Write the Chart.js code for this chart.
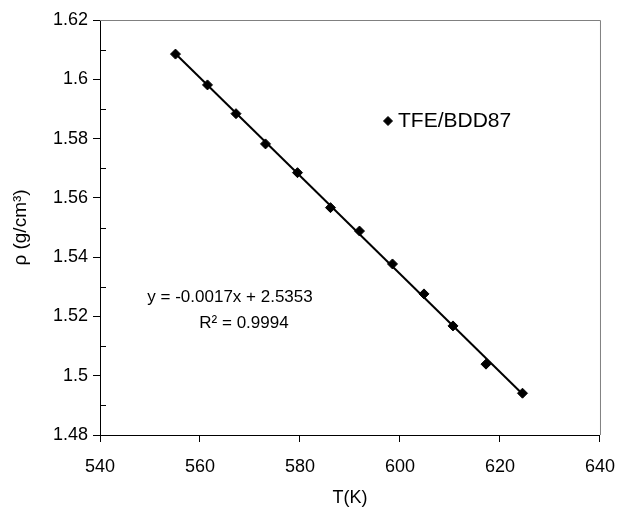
<!DOCTYPE html>
<html><head><meta charset="utf-8">
<script src="https://cdn.jsdelivr.net/npm/chart.js@4.4.0/dist/chart.umd.min.js"></script>
<style>html,body{margin:0;padding:0;background:#fff}#wrap{width:629px;height:513px}</style>
</head><body><div id="wrap"><canvas id="c" width="629" height="513"></canvas></div>
<script>
const seriesName = 'TFE/BDD87';
const temperatureK = [555.1, 561.5, 567.2, 573.1, 579.5, 586.1, 591.9, 598.5, 604.8, 610.6, 617.2, 624.5];
const densityGcm3 = [1.6085, 1.5981, 1.5884, 1.5782, 1.5685, 1.5567, 1.5488, 1.5377, 1.5276, 1.5168, 1.5039, 1.4941];
const xTickValues = [540, 560, 580, 600, 620, 640];
const yTickValues = [1.48, 1.50, 1.52, 1.54, 1.56, 1.58, 1.60, 1.62];
const yMinorTickValues = [1.49, 1.51, 1.53, 1.55, 1.57, 1.59, 1.61];
const equationLines = ['y = -0.0017x + 2.5353', 'R\u00B2 = 0.9994'];
const xTitle = 'T(K)';
const yTitle = '\u03C1 (g/cm\u00B3)';

// least-squares trend line from the data
const n = temperatureK.length;
const mx = temperatureK.reduce((a, b) => a + b, 0) / n;
const my = densityGcm3.reduce((a, b) => a + b, 0) / n;
let sxy = 0, sxx = 0;
for (let i = 0; i < n; i++) { sxy += (temperatureK[i] - mx) * (densityGcm3[i] - my); sxx += (temperatureK[i] - mx) ** 2; }
const slope = sxy / sxx, intercept = my - slope * mx;
const xMin = Math.min(...temperatureK), xMax = Math.max(...temperatureK);
const trend = [{x: xMin, y: intercept + slope * xMin}, {x: xMax, y: intercept + slope * xMax}];

const FONT = 'Liberation Sans, Arial, sans-serif';
const FS = 18;

const extras = {
  id: 'extras',
  afterDraw(chart) {
    const {ctx, chartArea: a, scales: {x, y}} = chart;
    ctx.save();
    // plot box top/right
    ctx.strokeStyle = '#808080'; ctx.lineWidth = 1;
    ctx.beginPath();
    ctx.moveTo(a.left, a.top + 0.5); ctx.lineTo(a.right + 0.5, a.top + 0.5); ctx.lineTo(a.right + 0.5, a.bottom);
    ctx.stroke();
    // minor ticks (inside)
    ctx.strokeStyle = '#000';
    ctx.beginPath();
    yMinorTickValues.forEach(v => { const py = Math.round(y.getPixelForValue(v)) + 0.5; ctx.moveTo(a.left, py); ctx.lineTo(a.left + 6, py); });
    ctx.stroke();
    // legend
    Chart.helpers.drawPoint(ctx, {pointStyle: 'rectRot', radius: 4.5, borderWidth: 1}, 388, 121);
    ctx.fillStyle = '#000';
    ctx.font = '21px ' + FONT;
    ctx.textBaseline = 'middle'; ctx.textAlign = 'left';
    ctx.fillText(seriesName, 398, 121);
    // equation
    ctx.font = '17px ' + FONT;
    ctx.textAlign = 'center';
    ctx.fillText(equationLines[0], 230, 297);
    ctx.fillText(equationLines[1], 244, 323);
    ctx.restore();
  }
};

new Chart(document.getElementById('c'), {
  type: 'scatter',
  data: {
    datasets: [
      {label: seriesName, data: temperatureK.map((t, i) => ({x: t, y: densityGcm3[i]})),
       pointStyle: 'rectRot', pointRadius: 5, pointBackgroundColor: '#000', pointBorderColor: '#000', pointBorderWidth: 1, showLine: false, order: 1},
      {label: 'trend', data: trend, showLine: true, borderColor: '#000', borderWidth: 2, pointRadius: 0, order: 2}
    ]
  },
  options: {
    responsive: false, animation: false, devicePixelRatio: 1,
    layout: {padding: {left: 0, top: 20, right: 25, bottom: 0}},
    plugins: {legend: {display: false}, tooltip: {enabled: false}},
    scales: {
      x: {
        type: 'linear', min: 540, max: 640,
        afterBuildTicks: s => { s.ticks = xTickValues.map(v => ({value: v})); },
        afterFit: s => { s.height = 78; },
        ticks: {color: '#000', font: {family: FONT, size: FS}, padding: 14, maxRotation: 0},
        grid: {drawOnChartArea: false, drawTicks: true, tickLength: 7, color: '#000'},
        border: {color: '#000', width: 1},
        title: {display: true, text: xTitle, color: '#000', font: {family: FONT, size: FS}, padding: {top: 0, bottom: 4}}
      },
      y: {
        type: 'linear', min: 1.48, max: 1.62,
        afterBuildTicks: s => { s.ticks = yTickValues.map(v => ({value: v})); },
        afterFit: s => { s.width = 100; },
        ticks: {color: '#000', font: {family: FONT, size: FS}, padding: 5, callback: v => String(+v.toFixed(2))},
        grid: {drawOnChartArea: false, drawTicks: true, tickLength: 7, color: '#000'},
        border: {color: '#000', width: 1},
        title: {display: true, text: yTitle, color: '#000', font: {family: FONT, size: 19}, padding: {top: 9, bottom: 0}}
      }
    }
  },
  plugins: [extras]
});
</script>
</body></html>
